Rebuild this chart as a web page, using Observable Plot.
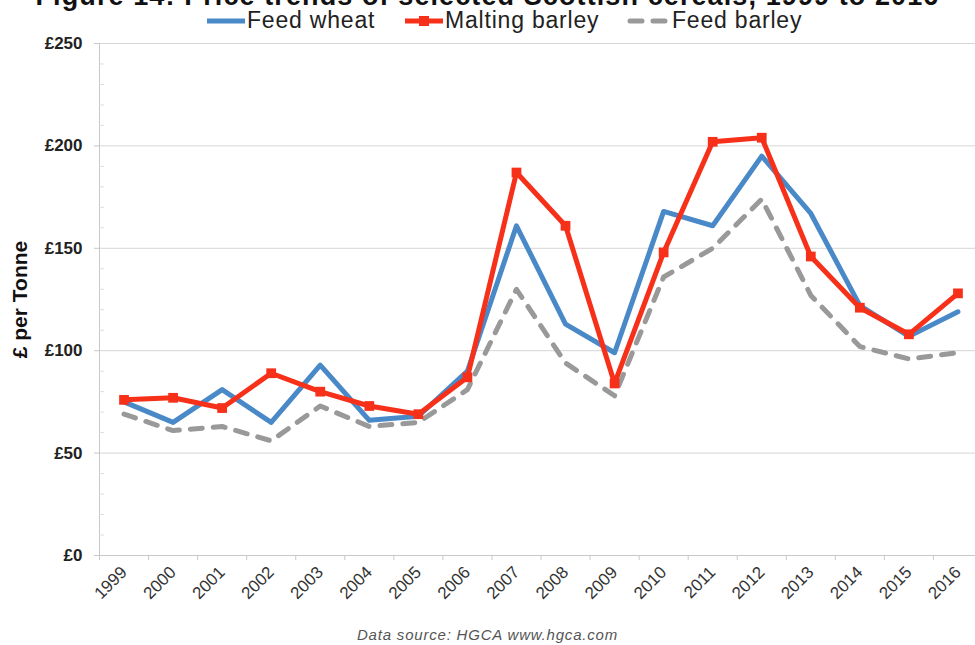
<!DOCTYPE html>
<html><head><meta charset="utf-8">
<script src="https://cdn.jsdelivr.net/npm/d3@7"></script>
<script src="https://cdn.jsdelivr.net/npm/@observablehq/plot@0.6"></script>
<style>
body{margin:0;background:#fff;font-family:"Liberation Sans",Arial,sans-serif;}
#wrap{position:relative;width:975px;height:645px;overflow:hidden;background:#fff;}
#header{position:relative;height:36px;}
#title{position:absolute;left:0;top:-17px;width:975px;text-align:center;font-weight:bold;font-size:27px;line-height:27px;letter-spacing:1.1px;color:#111;white-space:nowrap;}
.leg{position:absolute;top:9px;font-size:23px;line-height:23px;letter-spacing:0.8px;color:#222;white-space:nowrap;}
.sw{position:absolute;top:15px;}
#caption{text-align:center;font-style:italic;font-size:15px;letter-spacing:0.8px;color:#555;line-height:18px;}
svg{display:block;}
</style></head>
<body>
<div id="wrap">
  <div id="header"><div id="title">Figure 14: Price trends of selected Scottish cereals, 1999 to 2016</div></div>
  <div id="chart"></div>
  <div id="caption">Data source: HGCA www.hgca.com</div>
</div>
<script>
const years = [1999,2000,2001,2002,2003,2004,2005,2006,2007,2008,2009,2010,2011,2012,2013,2014,2015,2016];
const feedWheat     = [75, 65, 81, 65, 93, 66, 68, 90, 161, 113, 99, 168, 161, 195, 167, 122, 107, 119];
const maltingBarley = [76, 77, 72, 89, 80, 73, 69, 87, 187, 161, 84, 148, 202, 204, 146, 121, 108, 128];
const feedBarley    = [69, 61, 63, 56, 73, 63, 65, 81, 130, 94, 78, 136, 150, 174, 127, 102, 96, 99];
const seriesNames = ["Feed wheat", "Malting barley", "Feed barley"];
const seriesColors = ["#4a89c8", "#f7301a", "#999999"];
const yTicks = [0, 50, 100, 150, 200, 250];

const seriesValues = [feedWheat, maltingBarley, feedBarley];
const rows = seriesNames.flatMap((name, s) => years.map((yr, i) => ({year: yr, series: name, value: seriesValues[s][i]})));
const bySeries = name => rows.filter(r => r.series === name);
const minorTicks = d3.range(yTicks[0], yTicks[yTicks.length-1] + 1, 10).filter(d => d % 50 !== 0);
const boundaries = years.map(y => y - 0.5).concat([years[years.length-1] + 0.5]);
const axisGray = "#c8c8c8";

const chart = Plot.plot({
  width: 975, height: 590,
  marginTop: 7, marginBottom: 71, marginLeft: 99, marginRight: 0,
  style: {fontFamily: "'Liberation Sans', Arial, sans-serif", background: "#fff", overflow: "visible"},
  x: {type: "linear", domain: [years[0] - 0.5, years[years.length-1] + 0.5], range: [99, 982]},
  y: {domain: [yTicks[0], yTicks[yTicks.length-1]]},
  color: {domain: seriesNames, range: seriesColors},
  marks: [
    Plot.gridY(yTicks, {stroke: "#d6d6d6", strokeOpacity: 1}),
    Plot.ruleX([years[0] - 0.5], {stroke: axisGray}),
    Plot.ruleY([yTicks[0]], {stroke: axisGray}),
    Plot.axisY(yTicks, {tickSize: 5, tickPadding: 12, tickFormat: d => "£" + d, fontWeight: "bold", fontSize: 17, stroke: axisGray, fill: "#222", label: null}),
    Plot.axisY(minorTicks, {tickSize: -5, tickFormat: () => "", stroke: "#dddddd", label: null}),
    Plot.axisX(boundaries, {tickSize: 5, tickFormat: () => "", stroke: axisGray, label: null}),
    Plot.axisX(years, {tickSize: 0, tickPadding: 14, tickRotate: -45, tickFormat: d => String(d), fontSize: 17, fill: "#333", label: null}),
    Plot.text(["£ per Tonne"], {frameAnchor: "left", textAnchor: "middle", rotate: -90, dx: -79, fontWeight: "bold", fontSize: 21, fill: "#111"}),
    Plot.line(bySeries("Feed barley"), {x: "year", y: "value", stroke: "series", strokeWidth: 5, strokeDasharray: "12,11", strokeLinecap: "round"}),
    Plot.line(bySeries("Feed wheat"), {x: "year", y: "value", stroke: "series", strokeWidth: 5}),
    Plot.line(bySeries("Malting barley"), {x: "year", y: "value", stroke: "series", strokeWidth: 5}),
    Plot.dot(bySeries("Malting barley"), {x: "year", y: "value", symbol: "square", fill: "series", r: 5.5})
  ]
});
document.getElementById("chart").appendChild(chart);

// legend
const header = document.getElementById("header");
const legPos = [{sw: 207, text: 247, w: 38}, {sw: 405, text: 445, w: 38}, {sw: 627, text: 672, w: 44}];
seriesNames.forEach((name, i) => {
  const p = legPos[i];
  const ns = "http://www.w3.org/2000/svg";
  const s = document.createElementNS(ns, "svg");
  s.setAttribute("class", "sw");
  s.setAttribute("width", p.w); s.setAttribute("height", 12);
  s.style.left = p.sw + "px";
  const l = document.createElementNS(ns, "line");
  l.setAttribute("x1", i === 2 ? 3 : 0); l.setAttribute("x2", i === 2 ? p.w - 3 : p.w);
  l.setAttribute("y1", 6); l.setAttribute("y2", 6);
  l.setAttribute("stroke", seriesColors[i]); l.setAttribute("stroke-width", 5);
  if (i === 2) { l.setAttribute("stroke-dasharray", "12,11"); l.setAttribute("stroke-linecap", "round"); }
  s.appendChild(l);
  if (i === 1) {
    const r = document.createElementNS(ns, "rect");
    r.setAttribute("x", p.w/2 - 5); r.setAttribute("y", 1); r.setAttribute("width", 10); r.setAttribute("height", 10);
    r.setAttribute("fill", seriesColors[i]);
    s.appendChild(r);
  }
  header.appendChild(s);
  const t = document.createElement("div");
  t.className = "leg"; t.style.left = p.text + "px"; t.textContent = name;
  header.appendChild(t);
});
</script>
</body></html>
